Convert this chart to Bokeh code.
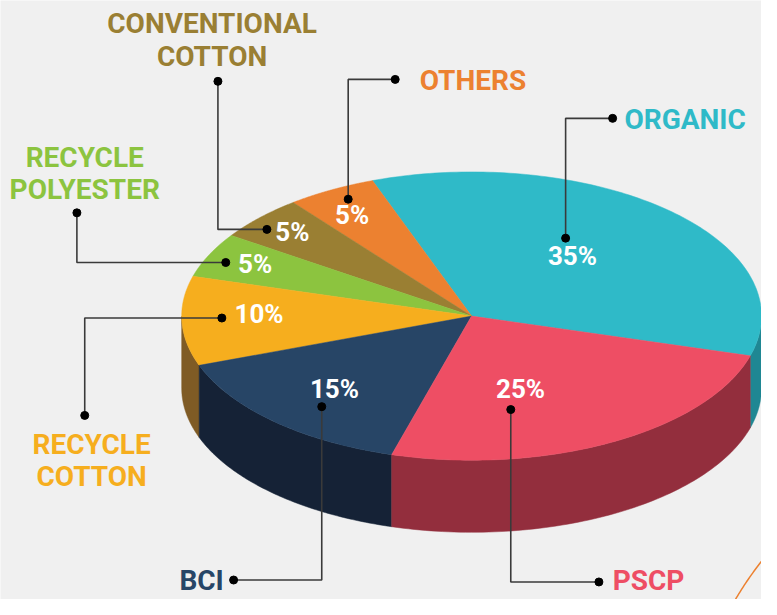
import numpy as np
from bokeh.plotting import figure
from bokeh.models import Range1d
from bokeh.core.properties import value
from bokeh.embed import file_html
from bokeh.resources import INLINE

# ---------------- data ----------------
categories = ["ORGANIC", "OTHERS", "CONVENTIONAL COTTON", "RECYCLE POLYESTER",
              "RECYCLE COTTON", "BCI", "PSCP"]
shares = [35, 5, 5, 5, 10, 15, 25]
pct_labels = [f"{v}%" for v in shares]
name_lines = [["ORGANIC"], ["OTHERS"], ["CONVENTIONAL", "COTTON"],
              ["RECYCLE", "POLYESTER"], ["RECYCLE", "COTTON"], ["BCI"], ["PSCP"]]
top_colors = ["#2fbac8", "#ec8130", "#9a7f33", "#8cc43f", "#f6ae1e", "#274566", "#ee4e64"]
side_colors = ["#1f8793", "#a85a20", "#6c5822", "#5f8a2a", "#7f5b25", "#152236", "#932e3d"]

# ---------------- layout (reference pixel space, y downwards) ----------------
CX, CY, RX, RY, DEPTH = 481.0, 324.0, 296.0, 148.0, 74.0
START_DEG = -16.0
BG = "#f0f0f0"
FONT = value("Roboto")

pct_pos = [(584, 262), (359, 220), (298, 238), (260, 271), (264, 322), (341, 399), (531, 399)]
leaders = [
    [(577, 244), (577, 121), (625, 121)],
    [(355, 204), (355, 81), (403, 81)],
    [(222, 83), (222, 235), (272, 235)],
    [(78, 218), (78, 269), (230, 269)],
    [(226, 326), (86, 326), (86, 426)],
    [(328, 417), (328, 595), (238, 595)],
    [(521, 420), (521, 597), (611, 597)],
]
# (x, first line y, align)
name_pos = [(637, 122, "left"), (428, 82, "left"), (216, 24, "center"), (86, 161, "center"),
            (93, 456, "center"), (228, 595, "right"), (625, 596, "left")]
LINE_GAP = 33

p = figure(width=761, height=599, output_backend="svg", toolbar_location=None,
           x_range=Range1d(0, 777), y_range=Range1d(615, 0),
           min_border=0)
p.axis.visible = False
p.grid.visible = False
p.outline_line_color = None
p.background_fill_color = BG
p.border_fill_color = BG


def pt(theta_deg, dy=0.0):
    t = np.radians(theta_deg)
    return CX + RX * np.cos(t), CY - RY * np.sin(t) + dy


# slice angles from shares
total = float(sum(shares))
bounds = START_DEG + np.concatenate([[0], np.cumsum(shares)]) / total * 360.0

# side walls (front half: angles in [180, 360] mod 360)
side_xs, side_ys, side_cols = [], [], []
for i in range(len(shares)):
    a0, a1 = bounds[i], bounds[i + 1]
    for lo, hi in [(-180.0, 0.0), (180.0, 360.0)]:
        s, e = max(a0, lo), min(a1, hi)
        if e - s <= 0:
            continue
        ang = np.linspace(s, e, 80)
        tx, ty = pt(ang)
        bx, by = pt(ang[::-1], DEPTH)
        side_xs.append(list(np.concatenate([tx, bx])))
        side_ys.append(list(np.concatenate([ty, by])))
        side_cols.append(side_colors[i])
p.patches(side_xs, side_ys, fill_color=side_cols, line_color=side_cols, line_width=0.5)

# top faces
top_xs, top_ys = [], []
for i in range(len(shares)):
    ang = np.linspace(bounds[i], bounds[i + 1], 120)
    ax, ay = pt(ang)
    top_xs.append([CX] + list(ax))
    top_ys.append([CY] + list(ay))
p.patches(top_xs, top_ys, fill_color=top_colors, line_color=top_colors, line_width=0.5)

# decorative arc bottom right (part of a large circle)
arc_t = np.radians(np.linspace(135, 160, 60))
p.line(1050 + 347 * np.cos(arc_t), 790 - 347 * np.sin(arc_t),
       line_color="#ec8130", line_width=1.5)

# percentage labels
p.text(x=[q[0] for q in pct_pos], y=[q[1] for q in pct_pos], text=pct_labels,
       text_color="white", text_font=FONT, text_font_style="bold",
       text_font_size="26px", text_align="center", text_baseline="middle")

# leader lines + dots
p.multi_line([[q[0] for q in L] for L in leaders], [[q[1] for q in L] for L in leaders],
             line_color="#3a3a3a", line_width=1.6)
dx = [L[0][0] for L in leaders] + [L[-1][0] for L in leaders]
dy = [L[0][1] for L in leaders] + [L[-1][1] for L in leaders]
p.scatter(dx, dy, size=8, fill_color="black", line_color="black")

# category names
for i, lines in enumerate(name_lines):
    x, y0, al = name_pos[i]
    for k, ln in enumerate(lines):
        p.text(x=[x], y=[y0 + k * LINE_GAP], text=[ln], text_color=top_colors[i],
               text_font=FONT, text_font_style="bold", text_font_size="28px",
               text_align=al, text_baseline="middle")

open("out.html", "w").write(file_html(p, INLINE))
